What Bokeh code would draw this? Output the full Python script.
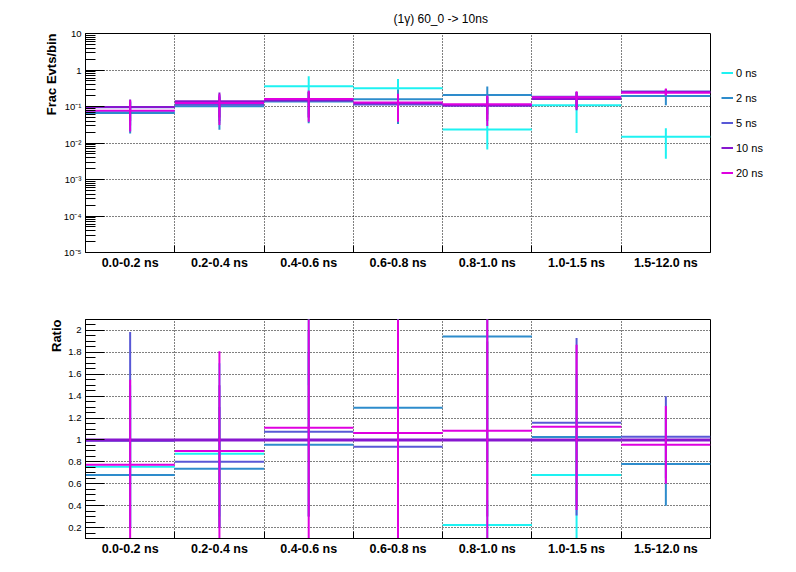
import numpy as np
from bokeh.plotting import figure
from bokeh.models import (ColumnDataSource, FixedTicker, CustomJSTickFormatter,
                          Legend, LegendItem, Title)
from bokeh.layouts import column
from bokeh.embed import file_html
from bokeh.resources import INLINE

# ---------------- data ----------------
categories = ["0.0-0.2 ns", "0.2-0.4 ns", "0.4-0.6 ns", "0.6-0.8 ns",
              "0.8-1.0 ns", "1.0-1.5 ns", "1.5-12.0 ns"]
series_names = ["0 ns", "2 ns", "5 ns", "10 ns", "20 ns"]
series_colors = ["#1ef2f2", "#2e8ccc", "#5858d6", "#8717cf", "#df00e0"]

# top panel: fraction of events per bin (value, error-bar low, error-bar high)
frac_0 = [0.073, 0.122, 0.36, 0.318, 0.0235, 0.109, 0.0148]
frac_0_lo = [0.021, 0.035, 0.06, 0.07, 0.0066, 0.0187, 0.0037]
frac_0_hi = [0.14, 0.21, 0.67, 0.57, 0.045, 0.18, 0.0254]

frac_2 = [0.066, 0.102, 0.138, 0.157, 0.207, 0.164, 0.195]
frac_2_lo = [0.0181, 0.023, 0.035, 0.033, 0.06, 0.09, 0.108]
frac_2_hi = [0.13, 0.18, 0.25, 0.288, 0.354, 0.25, 0.28]

frac_5 = [0.096, 0.112, 0.155, 0.113, 0.107, 0.185, 0.257]
frac_5_lo = [0.03, 0.04, 0.05, 0.045, 0.04, 0.1, 0.2]
frac_5_hi = [0.14, 0.19, 0.26, 0.2, 0.19, 0.25, 0.3]

frac_10 = [0.097, 0.14, 0.145, 0.122, 0.107, 0.16, 0.25]
frac_10_lo = [0.04, 0.05, 0.05, 0.05, 0.045, 0.079, 0.21]
frac_10_hi = [0.155, 0.243, 0.25, 0.2, 0.18, 0.24, 0.29]

frac_20 = [0.076, 0.125, 0.161, 0.129, 0.116, 0.179, 0.239]
frac_20_lo = [0.0206, 0.031, 0.038, 0.038, 0.029, 0.085, 0.2]
frac_20_hi = [0.148, 0.215, 0.276, 0.224, 0.2, 0.26, 0.31]

# bottom panel: ratio to 10 ns
ratio_0 = [0.755, 0.873, 2.48, 2.6, 0.223, 0.68, 0.06]
ratio_0_lo = [0.2, 0.3, 1.5, 1.6, 0.05, 0.05, 0.03]
ratio_0_hi = [1.5, 1.7, 3.5, 3.5, 0.45, 1.2, 0.09]

ratio_2 = [0.68, 0.736, 0.956, 1.295, 1.945, 1.026, 0.78]
ratio_2_lo = [0.2, 0.2, 0.3, 0.4, 0.8, 0.4, 0.40]
ratio_2_hi = [1.4, 1.3, 1.8, 2.5, 3.0, 1.6, 1.2]

ratio_5 = [0.993, 0.80, 1.075, 0.938, 1.0, 1.158, 1.03]
ratio_5_lo = [0.2, 0.2, 0.3, 0.3, 0.3, 0.31, 0.65]
ratio_5_hi = [1.985, 1.5, 2.0, 1.8, 1.9, 1.93, 1.40]

ratio_10 = [1.0, 1.0, 1.0, 1.0, 1.0, 1.0, 1.0]
ratio_10_lo = [1.0, 1.0, 1.0, 1.0, 1.0, 1.0, 1.0]
ratio_10_hi = [1.0, 1.0, 1.0, 1.0, 1.0, 1.0, 1.0]

ratio_20 = [0.773, 0.90, 1.112, 1.063, 1.084, 1.12, 0.956]
ratio_20_lo = [0.05, 0.05, 0.05, 0.05, 0.05, 0.36, 0.60]
ratio_20_hi = [1.55, 1.81, 2.5, 2.5, 2.5, 1.87, 1.31]

y_decades = [-5, -4, -3, -2, -1, 0, 1]
y_decade_labels = ["10\u207b\u2075", "10\u207b\u2074", "10\u207b\u00b3", "10\u207b\u00b2",
                   "10\u207b\u00b9", "1", "10"]
ratio_ticks = [0.2, 0.4, 0.6, 0.8, 1.0, 1.2, 1.4, 1.6, 1.8, 2.0]

title_text = "(1\u03b3) 60_0 -> 10ns"

top_data = [(frac_0, frac_0_lo, frac_0_hi), (frac_2, frac_2_lo, frac_2_hi),
            (frac_5, frac_5_lo, frac_5_hi), (frac_10, frac_10_lo, frac_10_hi),
            (frac_20, frac_20_lo, frac_20_hi)]
bot_data = [(ratio_0, ratio_0_lo, ratio_0_hi), (ratio_2, ratio_2_lo, ratio_2_hi),
            (ratio_5, ratio_5_lo, ratio_5_hi), (ratio_10, ratio_10_lo, ratio_10_hi),
            (ratio_20, ratio_20_lo, ratio_20_hi)]

# ---------------- helpers ----------------
n = len(categories)
xc = np.arange(n, dtype=float)
xl = xc - 0.5
xr = xc + 0.5
edges = list(xc[:-1] + 0.5)
FONT = "Liberation Sans"


def style(p, ylabel):
    p.outline_line_color = "black"
    p.outline_line_alpha = 1.0
    p.outline_line_width = 1
    p.background_fill_color = "white"
    p.border_fill_color = "white"

    xa = p.xaxis[0]
    xa.ticker = FixedTicker(ticks=list(xc), minor_ticks=edges)
    xa.major_label_overrides = {i: c for i, c in enumerate(categories)}
    xa.major_tick_in = 0
    xa.major_tick_out = 0
    xa.minor_tick_in = 7
    xa.minor_tick_out = 0
    xa.minor_tick_line_color = "black"
    xa.axis_line_color = "black"
    xa.major_label_text_font = FONT
    xa.major_label_text_font_style = "bold"
    xa.major_label_text_font_size = "12.5px"
    xa.major_label_text_color = "black"
    xa.major_label_standoff = 3

    ya = p.yaxis[0]
    ya.major_tick_in = 19
    ya.major_tick_out = 0
    ya.minor_tick_in = 10
    ya.minor_tick_out = 0
    ya.major_tick_line_color = "black"
    ya.minor_tick_line_color = "black"
    ya.axis_line_color = "black"
    ya.major_label_text_font = FONT
    ya.major_label_text_font_size = "9.5px"
    ya.major_label_text_color = "black"
    ya.major_label_standoff = 4

    p.xgrid[0].ticker = FixedTicker(ticks=edges)
    for g in (p.xgrid[0], p.ygrid[0]):
        g.grid_line_color = "black"
        g.grid_line_dash = "1 2"
        g.grid_line_width = 1
        g.grid_line_alpha = 1.0

    p.add_layout(Title(text=ylabel, align="right", text_font=FONT,
                       text_font_size="13px", text_font_style="bold",
                       text_color="black", standoff=4), "left")


def draw(p, data, widths):
    rends = []
    for (vals, lo, hi), col, w in zip(data, series_colors, widths):
        src = ColumnDataSource(dict(xl=xl, xr=xr, xc=xc, v=vals, lo=lo, hi=hi))
        r = p.segment(x0="xl", x1="xr", y0="v", y1="v", source=src,
                      line_color=col, line_width=w)
        p.segment(x0="xc", x1="xc", y0="lo", y1="hi", source=src,
                  line_color=col, line_width=2)
        rends.append(r)
    return rends


# ---------------- top panel ----------------
top = figure(frame_width=625, frame_height=219, x_range=(-0.5, n - 0.5),
             y_range=(1e-5, 10), y_axis_type="log",
             output_backend="svg", toolbar_location=None,
             min_border_left=85, min_border_right=78, min_border_top=33,
             min_border_bottom=38)
top.title.text = title_text
top.title.align = "left"
top.title.offset = 308
top.title.text_font = FONT
top.title.text_font_size = "12px"
top.title.text_font_style = "normal"
top.title.text_color = "black"
top.title.standoff = 16

style(top, "Frac Evts/bin")
decade_vals = [10.0 ** e for e in y_decades]
minor_vals = [m * 10.0 ** e for e in y_decades[:-1] for m in range(2, 10)]
top.yaxis[0].ticker = FixedTicker(ticks=decade_vals, minor_ticks=minor_vals)
top.ygrid[0].ticker = FixedTicker(ticks=decade_vals)
top.yaxis[0].formatter = CustomJSTickFormatter(
    args=dict(labels=y_decade_labels, emin=y_decades[0]),
    code="return labels[Math.round(Math.log10(tick)) - emin];")

top_rends = draw(top, top_data, [2, 2, 2, 2, 2])

legend = Legend(items=[LegendItem(label=nm, renderers=[r])
                       for nm, r in zip(series_names, top_rends)],
                location=(11, 72), orientation="vertical",
                glyph_width=12, glyph_height=15, label_height=15,
                spacing=10, padding=0, margin=0, label_standoff=3,
                label_text_font=FONT, label_text_font_size="11px",
                label_text_color="black",
                border_line_alpha=0, background_fill_alpha=0)
top.add_layout(legend, "right")

# ---------------- bottom panel ----------------
bot = figure(frame_width=625, frame_height=219, x_range=(-0.5, n - 0.5),
             y_range=(0.1, 2.1), output_backend="svg", toolbar_location=None,
             min_border_left=85, min_border_right=78, min_border_top=29,
             min_border_bottom=26)
style(bot, "Ratio")
minor_r = [round(0.1 + 0.05 * k, 2) for k in range(0, 41)]
bot.yaxis[0].ticker = FixedTicker(ticks=ratio_ticks, minor_ticks=minor_r)
bot.ygrid[0].ticker = FixedTicker(ticks=ratio_ticks)
bot.yaxis[0].formatter = CustomJSTickFormatter(
    code="return String(Math.round(tick * 10) / 10);")

draw(bot, bot_data, [2, 2, 2, 3, 2])

layout = column(top, bot, spacing=0)
open("out.html", "w").write(file_html(layout, INLINE))
